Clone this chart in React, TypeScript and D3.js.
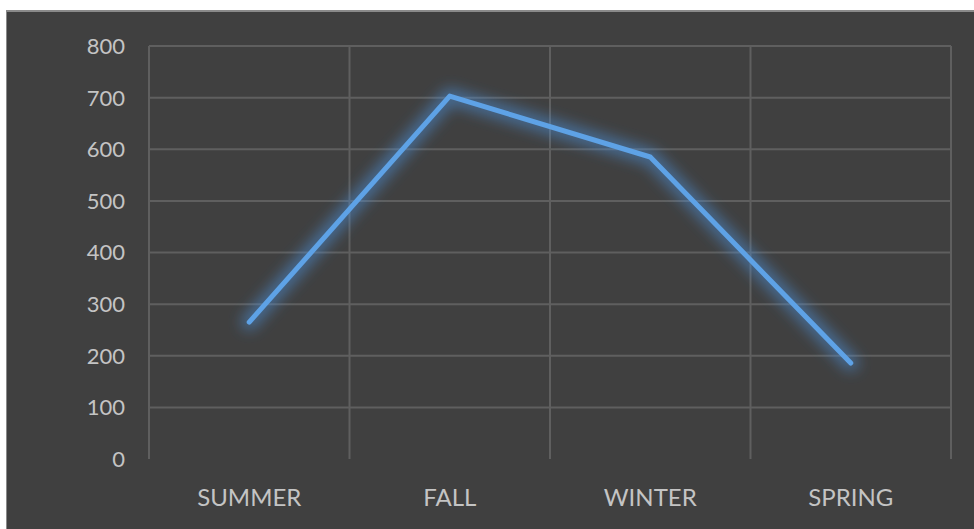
import React from "react";
import * as d3 from "d3";

const categories = ["SUMMER", "FALL", "WINTER", "SPRING"];
const values = [265, 703, 585, 186];
const yTicks = [0, 100, 200, 300, 400, 500, 600, 700, 800];

const W = 974;
const H = 529;

export default function App() {
  const x = d3.scaleBand<string>().domain(categories).range([149, 951]);
  const y = d3.scaleLinear().domain([0, 800]).range([459, 46]);
  const line = d3
    .line<number>()
    .x((_, i) => (x(categories[i]) as number) + x.bandwidth() / 2)
    .y((d) => y(d));
  const path = line(values) || "";
  const bounds = [...categories.map((c) => x(c) as number), 951];

  return (
    <svg
      width={W}
      height={H}
      style={{ position: "absolute", left: 0, top: 0, display: "block" }}
    >
      <defs>
        <filter id="glow" x="-20%" y="-20%" width="140%" height="140%">
          <feGaussianBlur stdDeviation="7" />
        </filter>
      </defs>
      <rect x={0} y={0} width={W} height={H} fill="#ffffff" />
      <rect x={6} y={10} width={W - 6} height={H - 10} fill="#8a8a8a" />
      <rect x={7} y={12} width={W - 7} height={H - 12} fill="#404040" />
      {yTicks.map((t) => (
        <line
          key={"h" + t}
          x1={149}
          x2={951}
          y1={y(t)}
          y2={y(t)}
          stroke={t === 0 ? "none" : "#5f5f5f"}
          strokeWidth={2}
        />
      ))}
      {bounds.map((b, i) => (
        <line
          key={"v" + i}
          x1={b}
          x2={b}
          y1={y(800)}
          y2={y(0)}
          stroke="#5f5f5f"
          strokeWidth={2}
        />
      ))}
      {yTicks.map((t) => (
        <text
          key={"yl" + t}
          x={125}
          y={y(t)}
          dy="0.36em"
          textAnchor="end"
          fontFamily="Lato, sans-serif"
          fontSize={22}
          fill="#c4c4c4"
        >
          {t}
        </text>
      ))}
      {categories.map((c) => (
        <text
          key={"xl" + c}
          x={(x(c) as number) + x.bandwidth() / 2}
          y={506}
          textAnchor="middle"
          fontFamily="Lato, sans-serif"
          fontSize={24}
          fill="#c4c4c4"
        >
          {c}
        </text>
      ))}
      <path
        d={path}
        fill="none"
        stroke="#4a8fd8"
        strokeOpacity={0.55}
        strokeWidth={16}
        strokeLinejoin="round"
        strokeLinecap="round"
        filter="url(#glow)"
      />
      <path
        d={path}
        fill="none"
        stroke="#5ea2e6"
        strokeWidth={5}
        strokeLinejoin="round"
        strokeLinecap="round"
      />
    </svg>
  );
}
